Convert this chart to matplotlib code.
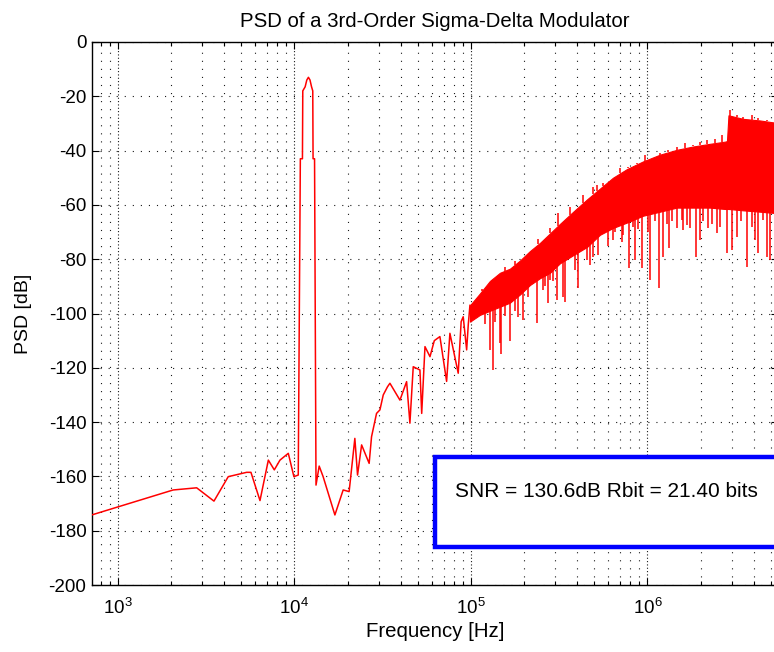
import numpy as np
import matplotlib
matplotlib.use("Agg")
import matplotlib.pyplot as plt
from matplotlib.patches import Rectangle
from matplotlib.ticker import LogLocator, NullFormatter

plt.rcParams['font.family'] = ['Liberation Sans', 'DejaVu Sans']
plt.rcParams['axes.unicode_minus'] = False
plt.rcParams['lines.scale_dashes'] = False

# trace basse frequence (Hz, dB)
f_trace = [710, 2055, 2793, 3500, 4216, 5360, 5670, 6380, 7115, 7690, 8280, 9230,
           9930, 10510, 10800, 11100, 11150, 11500, 11750, 12000, 12250, 12500,
           12700, 12750, 13000, 13250, 13810, 14540, 16950, 18880, 20410, 21990,
           22780, 24020, 26500, 27340, 29180, 30500, 31850, 33660, 34750, 39600,
           43200, 45100, 47100, 51400, 52600, 54900, 58600, 62000, 66700, 72800,
           76000, 84700, 88000, 90400, 94540, 96600, 98700]
psd_trace = [-174.2, -165.0, -164.2, -169.1, -160.1, -158.5, -158.5, -168.9, -154.0,
             -157.6, -154.0, -151.5, -160.1, -159.5, -43, -43, -18, -16.5, -14, -13,
             -14, -16.5, -18, -43, -43, -163.2, -156.2, -160.1, -174.2, -165.0,
             -165.6, -146.0, -159.5, -148.4, -155.2, -145.4, -136.8, -135.5, -130.0,
             -127.0, -125.7, -131.9, -125.1, -140.4, -119.6, -120.8, -136.8, -112.2,
             -115.9, -110.0, -108.5, -125.0, -107.3, -122.0, -103.0, -101.2, -113.4,
             -104.0, -97.0]

# bande de bruit dense : enveloppes haute et basse
f_band = [98700, 112470, 128100, 146000, 166300, 189500, 215900, 246000, 280300,
          319300, 379900, 454200, 538100, 637600, 765500, 942800, 1.177e6, 1.469e6,
          1.810e6, 2.260e6, 2.749e6, 2.821e6, 2.877e6, 3.477e6, 4.339e6, 5.278e6, 7.3e6]
band_hi = [-97, -92.6, -88, -85, -83.5, -80.5, -77, -74, -70.5, -67, -62.5, -58, -54,
           -50, -46.8, -44, -41.5, -39.7, -38.5, -37.5, -36.7, -36.5, -27, -28.3,
           -28.9, -29.7, -29.7]
band_lo = [-103, -100.5, -99, -97.5, -96, -93, -89.5, -87, -85, -81.5, -78.5, -75.5,
           -71, -68.5, -66.5, -64, -62.5, -61, -61, -61, -61.5, -61.5, -61.5, -62,
           -62.5, -63, -63]

# pics vers le bas
f_down = [120000, 128100, 132700, 136800, 146000, 147900, 155800, 166300, 177600,
          185400, 197800, 210300, 235600, 256800, 262700, 274200, 280300, 291500,
          305900, 333400, 340900, 388400, 405500, 452400, 472300, 493100, 526200,
          597300, 640100, 654500, 714300, 726500, 788800, 830900, 849700, 883500,
          926900, 1.007e6, 1.033e6, 1.103e6, 1.167e6, 1.229e6, 1.284e6, 1.329e6,
          1.376e6, 1.464e6, 1.563e6, 1.583e6, 1.668e6, 1.741e6, 1.883e6, 1.984e6,
          2.062e6, 2.211e6, 2.319e6, 2.467e6, 2.576e6, 2.810e6, 3.000e6, 3.227e6,
          3.386e6, 3.648e6, 3.894e6, 4.065e6, 4.243e6, 4.530e6, 4.737e6, 4.945e6]
psd_down = [-104.0, -113.4, -120.8, -103.0, -111.0, -115.0, -101.0, -110.0, -99.0,
            -101.2, -102.4, -94.0, -103.6, -91.3, -90.0, -96.2, -87.7, -88.0,
            -95.0, -93.8, -95.6, -84.0, -90.7, -80.3, -82.1, -79.1, -78.5,
            -75.0, -72.9, -70.0, -73.6, -71.0, -83.4, -68.0, -80.3, -69.0,
            -83.4, -70.0, -87.7, -66.0, -90.7, -79.1, -67.0, -76.0,
            -66.0, -68.6, -65.6, -69.2, -67.4, -68.6, -79.1, -72.9,
            -66.0, -68.6, -67.0, -70.5, -68.0, -77.8, -76.6, -71.7,
            -66.0, -82.8, -68.0, -72.9, -77.8, -65.6, -79.1, -80.3]

# pics vers le haut
f_up = [115000, 139800, 155800, 177600, 240600, 280300, 311100, 363800, 432900,
        493100, 515400, 561800, 613100, 698700, 778500, 868700, 967900, 1.079e6,
        1.177e6, 1.312e6, 1.464e6, 1.632e6, 1.818e6, 1.984e6, 2.165e6, 2.413e6,
        2.633e6, 2.934e6, 3.202e6, 3.490e6, 3.894e6, 4.243e6, 4.737e6]
psd_up = [-91.0, -85.8, -83.0, -80.5, -72.5, -68.5, -63.0, -60.7, -56.5,
          -53.3, -52.5, -52.0, -50.8, -46.5, -45.9, -44.7, -41.6, -42.2,
          -41.0, -39.8, -38.6, -37.1, -37.9, -36.7, -36.1, -35.8,
          -34.3, -25.0, -26.9, -27.5, -26.9, -28.1, -28.7]

xlim = (713, 5.49e6)
ylim = (-200, 0)
y_ticks = list(range(-200, 1, 20))

fig = plt.figure(figsize=(7.74, 6.52), dpi=100)
ax = fig.add_axes([92 / 774, 1 - 585 / 652, 686 / 774, 543 / 652])

ax.plot(f_trace, psd_trace, color='r', lw=1.1, zorder=3)
ax.fill_between(f_band, band_lo, band_hi, color='r', lw=0.8, zorder=3)
lo_down = np.interp(np.log10(f_down), np.log10(f_band), band_lo)
ax.vlines(f_down, psd_down, lo_down, color='r', lw=1.1, zorder=3)
hi_up = np.interp(np.log10(f_up), np.log10(f_band), band_hi)
ax.vlines(f_up, hi_up, psd_up, color='r', lw=1.1, zorder=3)

ax.set_xscale('log')
ax.set_xlim(xlim)
ax.set_ylim(ylim)
ax.set_yticks(y_ticks)
ax.xaxis.set_major_locator(LogLocator(base=10))
ax.xaxis.set_minor_locator(LogLocator(base=10, subs=np.arange(2, 10)))
ax.xaxis.set_minor_formatter(NullFormatter())

ax.tick_params(which='both', direction='in', top=True, right=True, labelsize=13.5)
ax.tick_params(which='major', length=5, width=0.8)
ax.tick_params(which='minor', length=3, width=0.8)
ax.tick_params(axis='x', which='major', pad=9)
ax.tick_params(axis='y', which='major', pad=4)
for s in ax.spines.values():
    s.set_linewidth(1.0)

ax.grid(True, which='major', axis='y', color='0.1', lw=0.8, ls=(0, (0.8, 5)))
ax.grid(True, which='major', axis='x', color='0.1', lw=0.8, ls=(0, (0.8, 1.6)))
ax.grid(True, which='minor', axis='x', color='0.1', lw=0.8, ls=(0, (0.8, 5)))

ax.set_title('PSD of a 3rd-Order Sigma-Delta Modulator', fontsize=14.7, pad=11)
ax.set_xlabel('Frequency [Hz]', fontsize=14.7, labelpad=3)
ax.set_ylabel('PSD [dB]', fontsize=14, labelpad=12)

box = Rectangle((62500, -186.0), 1e7, 33.1, facecolor='white', edgecolor=(0, 0, 1),
                lw=3.2, zorder=5)
ax.add_patch(box)
ax.text(81100, -165.5, 'SNR = 130.6dB Rbit = 21.40 bits', fontsize=15,
        va='center', ha='left', zorder=6)

fig.savefig('out.png', dpi=100)
